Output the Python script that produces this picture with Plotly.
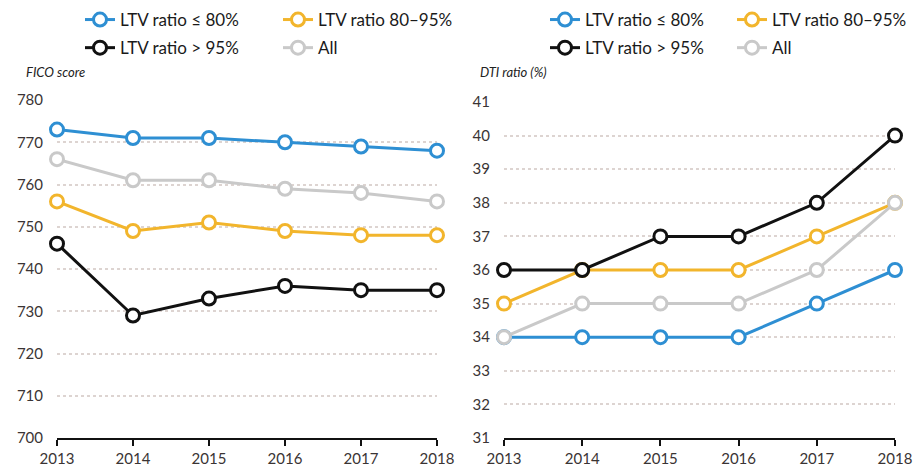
import plotly.graph_objects as go

years = [2013, 2014, 2015, 2016, 2017, 2018]
series_names = ["LTV ratio ≤ 80%", "LTV ratio 80–95%", "LTV ratio > 95%", "All"]
colors = ["#2e8fd3", "#f2b52c", "#111111", "#c9c9c9"]

fico_le80 = [773, 771, 771, 770, 769, 768]
fico_80_95 = [756, 749, 751, 749, 748, 748]
fico_gt95 = [746, 729, 733, 736, 735, 735]
fico_all = [766, 761, 761, 759, 758, 756]

dti_le80 = [34, 34, 34, 34, 35, 36]
dti_80_95 = [35, 36, 36, 36, 37, 38]
dti_gt95 = [36, 36, 37, 37, 38, 40]
dti_all = [34, 35, 35, 35, 36, 38]

fico_ticks = [700, 710, 720, 730, 740, 750, 760, 770, 780]
dti_ticks = list(range(31, 42))

# The page body has an 8px default margin; size the figure so it fills the window.
OFF = 8
W, H = 922 - OFF, 470 - OFF


def fx(px):
    return (px - OFF) / W


def fy(py):
    return 1 - (py - OFF) / H


fig = go.Figure()

FONT = "Lato"
fico = [fico_le80, fico_80_95, fico_gt95, fico_all]
dti = [dti_le80, dti_80_95, dti_gt95, dti_all]

left_legends = ["legend", "legend2", "legend", "legend2"]
right_legends = ["legend3", "legend4", "legend3", "legend4"]

for i, (name, col, vals) in enumerate(zip(series_names, colors, fico)):
    fig.add_trace(go.Scatter(
        x=years, y=vals, name=name, mode="lines+markers",
        line=dict(color=col, width=3),
        marker=dict(symbol="circle", size=13, color="white", line=dict(color=col, width=3)),
        xaxis="x", yaxis="y", legend=left_legends[i], legendgroup="L%d" % i,
        cliponaxis=False,
    ))
for i, (name, col, vals) in enumerate(zip(series_names, colors, dti)):
    fig.add_trace(go.Scatter(
        x=years, y=vals, name=name, mode="lines+markers",
        line=dict(color=col, width=3),
        marker=dict(symbol="circle", size=13, color="white", line=dict(color=col, width=3)),
        xaxis="x2", yaxis="y2", legend=right_legends[i], legendgroup="R%d" % i,
        cliponaxis=False,
    ))

xcommon = dict(
    range=[2013, 2018], tickvals=years, ticktext=[str(y) for y in years],
    showgrid=False, zeroline=False, showline=True, linecolor="#111111", linewidth=2,
    ticks="outside", ticklen=6, tickwidth=2, tickcolor="#111111",
    tickfont=dict(family=FONT, size=15, color="#3a3434"),
)
ycommon = dict(
    showgrid=True, gridcolor="#ddd4d1", gridwidth=2, griddash="dot",
    zeroline=False, showline=False, ticks="outside", ticklen=10, tickcolor="rgba(0,0,0,0)",
    tickfont=dict(family=FONT, size=15, color="#3a3434"),
)

legcommon = dict(
    orientation="v",
    font=dict(family=FONT, size=17, color="#1a1a1a"),
    bgcolor="rgba(0,0,0,0)", xanchor="left", yanchor="top",
    traceorder="grouped", tracegroupgap=3, itemclick=False, itemdoubleclick=False,
    y=fy(2),
)

fig.update_layout(
    width=W, height=H,
    margin=dict(l=0, r=0, t=0, b=0, autoexpand=False),
    paper_bgcolor="white", plot_bgcolor="white",
    xaxis=dict(domain=[fx(57), fx(437)], anchor="y", **xcommon),
    yaxis=dict(domain=[fy(438), fy(100)], anchor="x", range=[700, 780], tickvals=fico_ticks, **ycommon),
    xaxis2=dict(domain=[fx(504), fx(895)], anchor="y2", **xcommon),
    yaxis2=dict(domain=[fy(438), fy(102)], anchor="x2", range=[31, 41], tickvals=dti_ticks, **ycommon),
    legend=dict(x=fx(80), **legcommon),
    legend2=dict(x=fx(278), **legcommon),
    legend3=dict(x=fx(545), **legcommon),
    legend4=dict(x=fx(732), **legcommon),
    showlegend=True,
    annotations=[
        dict(text="<i>FICO score</i>", x=fx(24), y=fy(72), xref="paper", yref="paper",
             xanchor="left", yanchor="middle", showarrow=False,
             font=dict(family=FONT, size=13, color="#222222")),
        dict(text="<i>DTI ratio (%)</i>", x=fx(478), y=fy(72), xref="paper", yref="paper",
             xanchor="left", yanchor="middle", showarrow=False,
             font=dict(family=FONT, size=13, color="#222222")),
    ],
)

fig.write_html("out.html")
